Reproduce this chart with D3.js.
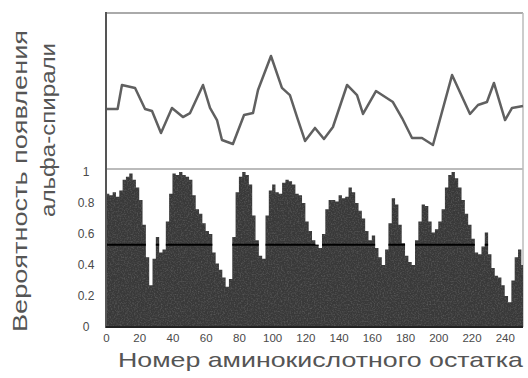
<!DOCTYPE html>
<html><head><meta charset="utf-8">
<script src="https://cdn.jsdelivr.net/npm/d3@7/dist/d3.min.js"></script>
<style>body{margin:0;background:#fff}svg{display:block}</style>
</head><body><svg id="c" width="528" height="378"></svg>
<script>
// Smoothed helix propensity (upper panel) – residue number / value
const topRes = [0, 7, 9.6, 17.5, 23.5, 27.7, 33.1, 39.7, 46.3, 50.6, 58.4, 62.6, 66.8, 69.8, 76.4, 83.1, 88.5, 91.5, 99.3, 105.9, 110.7, 115, 119.8, 125.8, 131.2, 136.6, 145.1, 151.1, 154.7, 162.5, 172.7, 178.2, 184.2, 190.2, 196.8, 208.3, 219.1, 223.9, 229.3, 233.5, 240.2, 244.4, 251];
const topVal = [0.387, 0.387, 0.542, 0.523, 0.387, 0.374, 0.232, 0.394, 0.335, 0.361, 0.542, 0.394, 0.316, 0.187, 0.161, 0.348, 0.361, 0.51, 0.729, 0.523, 0.477, 0.335, 0.181, 0.265, 0.194, 0.271, 0.542, 0.477, 0.355, 0.503, 0.432, 0.329, 0.2, 0.2, 0.155, 0.606, 0.355, 0.413, 0.432, 0.555, 0.316, 0.394, 0.406];

// Alpha-helix probability per residue (lower panel)
const barRes = [0,2,4,6,8,10,12,14,16,18,20,22,24,26,28,30,32,34,36,38,40,42,44,46,48,50,52,54,56,58,60,62,64,66,68,70,72,74,76,78,80,82,84,86,88,90,92,94,96,98,100,102,104,106,108,110,112,114,116,118,120,122,124,126,128,130,132,134,136,138,140,142,144,146,148,150,152,154,156,158,160,162,164,166,168,170,172,174,176,178,180,182,184,186,188,190,192,194,196,198,200,202,204,206,208,210,212,214,216,218,220,222,224,226,228,230,232,234,236,238,240,242,244,246,248,250];
const barVal = [0.86,0.85,0.87,0.84,0.88,0.95,0.97,0.99,0.95,0.90,0.82,0.66,0.45,0.27,0.44,0.58,0.48,0.50,0.68,0.86,0.99,0.98,1.0,0.98,0.97,0.95,0.85,0.76,0.73,0.67,0.62,0.60,0.48,0.41,0.37,0.32,0.26,0.31,0.58,0.87,0.97,1.0,0.98,0.92,0.72,0.56,0.46,0.44,0.72,0.88,0.92,0.87,0.86,0.93,0.95,0.94,0.92,0.86,0.85,0.80,0.68,0.62,0.56,0.53,0.51,0.60,0.76,0.82,0.82,0.81,0.85,0.83,0.84,0.90,0.87,0.80,0.75,0.70,0.62,0.56,0.59,0.51,0.45,0.40,0.50,0.67,0.83,0.79,0.66,0.54,0.46,0.42,0.40,0.56,0.68,0.79,0.78,0.68,0.61,0.63,0.68,0.76,0.90,0.98,1.0,0.96,0.90,0.82,0.73,0.66,0.57,0.48,0.47,0.52,0.61,0.47,0.38,0.33,0.32,0.27,0.20,0.16,0.30,0.45,0.50,0.40];
const threshold = 0.53;

const xTicks = [0,20,40,60,80,100,120,140,160,180,200,220,240];
const yTicks = [0,0.2,0.4,0.6,0.8,1];
const yTickLabels = ["0","0.2","0.4","0.6","0.8","1"];
const xTitle = "Номер аминокислотного остатка";
const yTitle1 = "Вероятность появления";
const yTitle2 = "альфа-спирали";

const svg = d3.select("#c");
const x = d3.scaleLinear().domain([0,251]).range([106,523]);
const y = d3.scaleLinear().domain([0,1]).range([327,172]);
const yTop = d3.scaleLinear().domain([0,1]).range([169,14]);

const bars = barRes.map((r,i)=>({r, v: barVal[i]}));
bars.push({r:251, v: barVal[barVal.length-1]});
const area = d3.area().x(d=>x(d.r)).y0(y(0)).y1(d=>y(d.v)).curve(d3.curveStepAfter);

const defs = svg.append("defs");
defs.append("clipPath").attr("id","ac").append("path").attr("d", area(bars));
const f = defs.append("filter").attr("id","grain").attr("x",0).attr("y",0).attr("width","100%").attr("height","100%");
f.append("feTurbulence").attr("type","fractalNoise").attr("baseFrequency",0.7).attr("numOctaves",2).attr("seed",3).attr("result","n");
f.append("feColorMatrix").attr("in","n").attr("type","matrix")
  .attr("values","0 0 0 0 0.5  0 0 0 0 0.5  0 0 0 0 0.5  0 0 0 1.3 -0.55");
const soft = defs.append("filter").attr("id","soft");
soft.append("feGaussianBlur").attr("stdDeviation",0.5);

// frame
svg.append("line").attr("x1",106).attr("x2",523).attr("y1",13).attr("y2",13).attr("stroke","#aaa").attr("stroke-width",2);
svg.append("line").attr("x1",523).attr("x2",523).attr("y1",13).attr("y2",327).attr("stroke","#bbb").attr("stroke-width",1.5);
svg.append("line").attr("x1",106).attr("x2",523).attr("y1",yTop(0)).attr("y2",yTop(0)).attr("stroke","#bbb").attr("stroke-width",2);

// area
svg.append("path").attr("d", area(bars)).attr("fill","#393939");
svg.append("g").attr("clip-path","url(#ac)")
  .append("rect").attr("x",106).attr("y",170).attr("width",418).attr("height",158).attr("filter","url(#grain)").attr("opacity",0.4);
svg.append("g").attr("clip-path","url(#ac)")
  .append("line").attr("x1",x(0)).attr("x2",x(251)).attr("y1",y(threshold)).attr("y2",y(threshold))
  .attr("stroke","#000").attr("stroke-width",2);

// top line
const line = d3.line().x((d,i)=>x(topRes[i])).y(d=>yTop(d));
svg.append("path").attr("d", line(topVal)).attr("fill","none").attr("stroke","#606060").attr("stroke-width",2.5).attr("stroke-linejoin","round").attr("filter","url(#soft)");

// axes lines
svg.append("line").attr("x1",106).attr("x2",106).attr("y1",12).attr("y2",328).attr("stroke","#555").attr("stroke-width",2);
svg.append("line").attr("x1",106).attr("x2",523).attr("y1",327).attr("y2",327).attr("stroke","#222").attr("stroke-width",2);

// y ticks
const yAxis = d3.axisLeft(y).tickValues(yTicks).tickFormat((d,i)=>yTickLabels[i]).tickSize(0);
const gy = svg.append("g").attr("transform","translate(90,0)").call(yAxis);
gy.select(".domain").remove();
gy.selectAll("text").attr("x",0).attr("text-anchor","middle").attr("dx",-4)
  .attr("font-family","Liberation Sans Narrow, Arial Narrow, Liberation Sans, sans-serif").attr("font-size",12).attr("fill","#4a4a4a");

// x ticks
const xAxis = d3.axisBottom(x).tickValues(xTicks).tickSize(0).tickPadding(0);
const gx = svg.append("g").attr("transform","translate(0,334)").call(xAxis);
gx.select(".domain").remove();
gx.selectAll("text").attr("font-family","Liberation Sans Narrow, Arial Narrow, Liberation Sans, sans-serif").attr("font-size",11.5).attr("fill","#4a4a4a");

// titles
svg.append("text").attr("x",118).attr("y",367).text(xTitle)
  .attr("font-family","Liberation Sans, Arial, sans-serif").attr("font-size",21).attr("fill","#555")
  .attr("textLength",405).attr("lengthAdjust","spacingAndGlyphs");
svg.append("text").attr("transform","translate(27,30) rotate(-90)").attr("text-anchor","end").text(yTitle1)
  .attr("font-family","Liberation Sans, Arial, sans-serif").attr("font-size",20).attr("fill","#555")
  .attr("textLength",302).attr("lengthAdjust","spacingAndGlyphs");
svg.append("text").attr("transform","translate(55,43) rotate(-90)").attr("text-anchor","end").text(yTitle2)
  .attr("font-family","Liberation Sans, Arial, sans-serif").attr("font-size",20).attr("fill","#555")
  .attr("textLength",174).attr("lengthAdjust","spacingAndGlyphs");
</script></body></html>
